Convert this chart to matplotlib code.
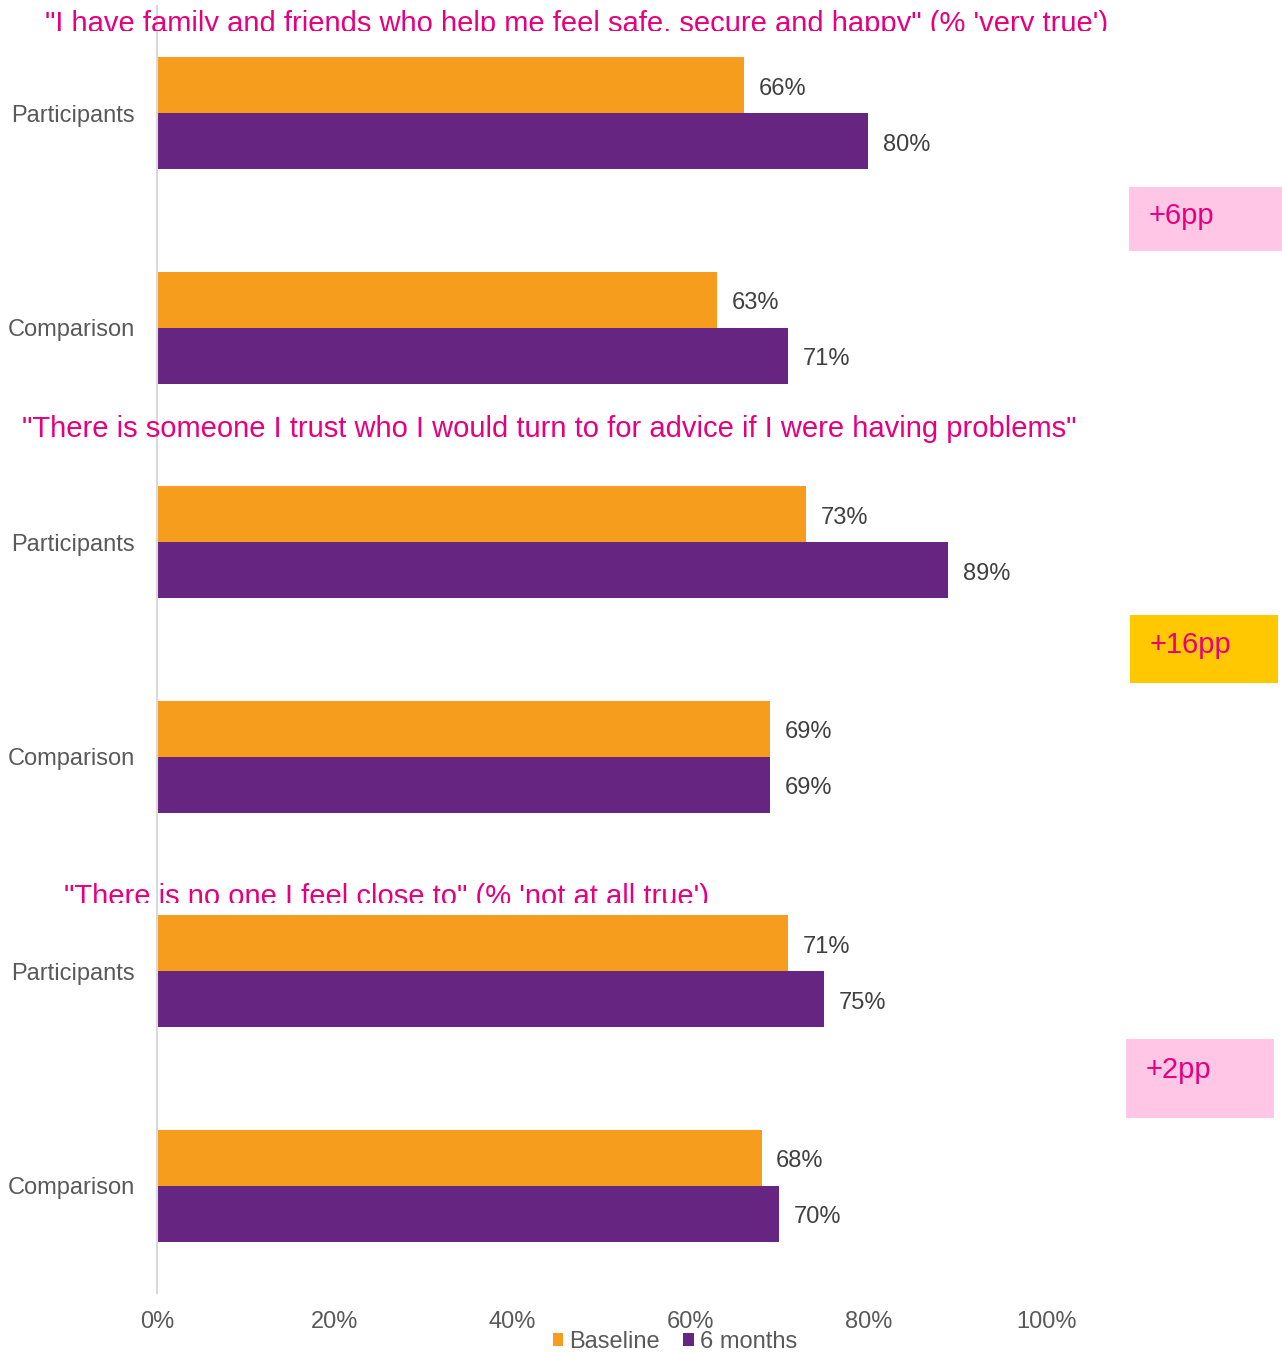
import matplotlib
matplotlib.use("Agg")
import matplotlib.pyplot as plt
from matplotlib.patches import Rectangle, Patch
from matplotlib.transforms import Bbox

plt.rcParams['font.family'] = ['Liberation Sans', 'DejaVu Sans']

# ---- data -------------------------------------------------------------
categories = ["Participants", "Comparison",
              "Participants", "Comparison",
              "Participants", "Comparison"]
baseline = [66, 63, 73, 69, 71, 68]
six_months = [80, 71, 89, 69, 75, 70]
series_names = ["Baseline", "6 months"]
x_ticks = [0, 20, 40, 60, 80, 100]
questions = [
    "\"I have family and friends who help me feel safe, secure and happy\" (% 'very true')",
    "\"There is someone I trust who I would turn to for advice if I were having problems\"",
    "\"There is no one I feel close to\" (% 'not at all true')",
]
differences = ["+6pp", "+16pp", "+2pp"]

# ---- style ------------------------------------------------------------
ORANGE = "#F79D1E"
PURPLE = "#662581"
MAGENTA = "#E6007E"
PINK = "#FFC6E6"
GOLD = "#FFC800"
AXIS_GREY = "#D9D9D9"
LABEL_GREY = "#595959"
VALUE_GREY = "#404040"

W, H = 1282, 1352
fig = plt.figure(figsize=(W / 100, H / 100), dpi=100)


def fx(px):
    return px / W


def fy(py):
    return 1 - py / H


ax = fig.add_axes([fx(157), fy(1293), fx(1046) - fx(157), fy(6) - fy(1293)])

pos = list(range(len(categories)))
bar_h = 0.261
ax.barh([p - bar_h / 2 for p in pos], baseline, height=bar_h, color=ORANGE, zorder=2)
ax.barh([p + bar_h / 2 for p in pos], six_months, height=bar_h, color=PURPLE, zorder=2)

for p, b, s in zip(pos, baseline, six_months):
    ax.annotate(f"{b}%", (b, p - bar_h / 2), xytext=(10.5, -2.5), textcoords="offset points",
                va="center", ha="left", fontsize=17, color=VALUE_GREY)
    ax.annotate(f"{s}%", (s, p + bar_h / 2), xytext=(10.5, -2.5), textcoords="offset points",
                va="center", ha="left", fontsize=17, color=VALUE_GREY)

ax.set_xlim(0, 100)
ax.set_ylim(len(categories) - 0.5, -0.5)
ax.set_xticks(x_ticks)
ax.set_xticklabels([f"{t}%" for t in x_ticks])
ax.set_yticks(pos)
ax.set_yticklabels(categories)
ax.tick_params(axis="x", length=0, pad=13, labelsize=17, labelcolor=LABEL_GREY)
ax.tick_params(axis="y", length=0, pad=16, labelsize=17, labelcolor=LABEL_GREY)
for side in ("top", "right", "bottom"):
    ax.spines[side].set_visible(False)
ax.spines["left"].set_color(AXIS_GREY)
ax.spines["left"].set_linewidth(1.5)
ax.spines["left"].set_zorder(5)
ax.patch.set_visible(False)

# ---- question headings (text boxes cut off at their lower edge) ------
title_specs = [(45, 32, 31), (22, 437, None), (64, 905, 903)]
for text, (x0, base, clip_y) in zip(questions, title_specs):
    t = fig.text(fx(x0), fy(base), text, ha="left", va="baseline",
                 fontsize=21, color=MAGENTA, zorder=1)
    if clip_y is not None:
        t.set_clip_box(Bbox([[0, H - clip_y], [W, H]]))
        t.set_clip_on(True)

# ---- difference call-outs --------------------------------------------
box_specs = [((1129, 187, 1290, 251), PINK, 1149, 224),
             ((1130, 615, 1278, 683), GOLD, 1150, 653),
             ((1126, 1039, 1274, 1118), PINK, 1146, 1078)]
for label, ((x0, y0, x1, y1), fill, tx, tb) in zip(differences, box_specs):
    fig.add_artist(Rectangle((fx(x0), fy(y1)), fx(x1) - fx(x0), fy(y0) - fy(y1),
                             transform=fig.transFigure, facecolor=fill,
                             edgecolor="none", zorder=1))
    fig.text(fx(tx), fy(tb), label, ha="left", va="baseline",
             fontsize=21, color=MAGENTA, zorder=2)

# ---- legend ------------------------------------------------------------
handles = [Patch(facecolor=ORANGE, edgecolor="none"),
           Patch(facecolor=PURPLE, edgecolor="none")]
fig.legend(handles, series_names, loc="center", bbox_to_anchor=(fx(675), fy(1342)),
           ncol=2, frameon=False, fontsize=17, labelcolor=LABEL_GREY,
           handlelength=0.45, handleheight=0.45, handletextpad=0.25,
           columnspacing=1.0, borderpad=0, borderaxespad=0)

fig.savefig("out.png", dpi=100)
